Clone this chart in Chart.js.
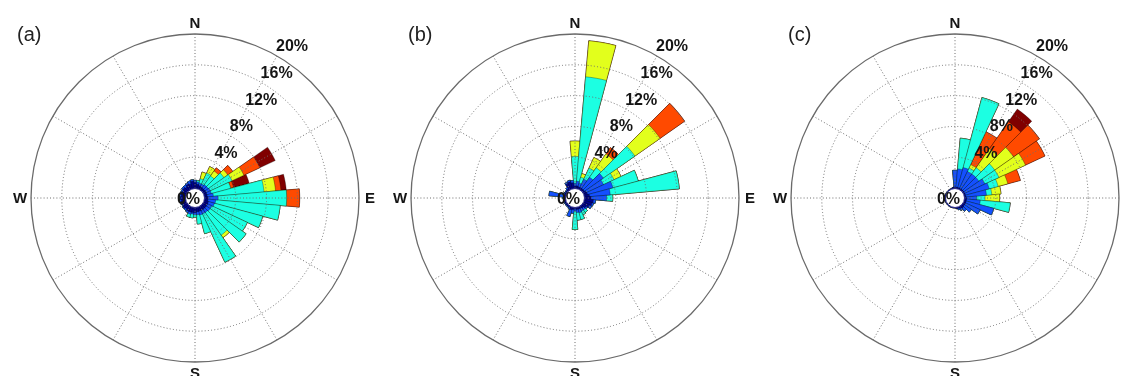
<!DOCTYPE html>
<html>
<head>
<meta charset="utf-8">
<script src="https://cdn.jsdelivr.net/npm/chart.js@4/dist/chart.umd.min.js"></script>
<style>
html,body{margin:0;padding:0;background:#fff;overflow:hidden;width:1126px;height:376px;position:relative;}
.panel{position:absolute;top:0;width:390px;height:376px;}
.panel canvas{position:absolute;left:0;top:0;}
.tag{position:absolute;top:23px;line-height:23px;font:20px "Liberation Sans",Arial,sans-serif;color:#222;}
</style>
</head>
<body>
<div class="panel" style="left:0px"><canvas id="ca" width="390" height="376"></canvas></div>
<div class="panel" style="left:380px"><canvas id="cb" width="390" height="376"></canvas></div>
<div class="panel" style="left:760px"><canvas id="cc" width="390" height="376"></canvas></div>
<div class="tag" style="left:17px">(a)</div>
<div class="tag" style="left:408px">(b)</div>
<div class="tag" style="left:788px">(c)</div>
<script>
// ---- categories (wind direction bins, degrees clockwise from N) ----
const directions = [0,10,20,30,40,50,60,70,80,90,100,110,120,130,140,150,160,170,
                    180,190,200,210,220,230,240,250,260,270,280,290,300,310,320,330,340,350];
const ringValues = [0,4,8,12,16,20];
const ringLabels = ['0%','4%','8%','12%','16%','20%'];
const compassLabels = ['N','E','S','W'];
const classColors = ['#00008F','#1450FF','#1CFFE2','#E2FF1C','#FF4A00','#800000'];

// ---- panel (a): frequency (%) per speed class, per direction ----
const aNavy   = [0.7,0.5,0.4,0.3,0.3,0.3,0.3,0.3,0.3,0.4,0.4,0.5,0.5,0.5,0.5,0.5,0.5,0.5,0.6,0.6,0.6,0.6,0.5,0.6,0.5,0.6,0.5,0.6,0.5,0.6,0.5,0.6,0.5,0.7,0.6,0.9];
const aBlue   = [0.3,0.3,0.3,0.4,0.5,0.5,0.6,0.6,0.8,1.3,1.0,0.8,0.6,0.6,0.5,0.5,0.5,0.4,0.3,0.2,0.3,0.2,0.2,0.1,0.1,0.1,0.2,0.1,0.2,0.1,0.2,0.2,0.3,0.2,0.4,0.2];
const aCyan   = [0,0.2,0.6,1.6,1.4,2.5,3.1,2.6,6.6,8.9,8.4,6.5,5.1,5.7,3.6,6.9,2.5,1.2,0.3,0.5,0.4,0,0,0,0,0,0,0,0,0,0,0,0,0,0,0];
const aYellow = [0,0,0.9,0.9,0.8,0.6,1.7,0,1.5,0,0,0,0,0,0.4,0,0,0,0,0,0,0,0,0,0,0,0,0,0,0,0,0,0,0,0,0];
const aOrange = [0,0,0,0,0.5,0.8,2.3,0.4,0.7,1.7,0,0,0,0,0,0,0,0,0,0,0,0,0,0,0,0,0,0,0,0,0,0,0,0,0,0];
const aDark   = [0,0,0,0,0,0,2.2,2.1,0.7,0,0,0,0,0,0,0,0,0,0,0,0,0,0,0,0,0,0,0,0,0,0,0,0,0,0,0];

// ---- panel (b) ----
const bNavy   = [0.2,0.3,0.2,0.2,0.2,0.2,0.3,0.4,0.6,0.8,1.1,1.0,0.8,0.5,0.3,0.2,0.2,0.2,0.1,0.2,0.3,0.1,0.1,0.1,0.1,0.1,0.1,0.1,0.1,0.1,0.1,0.1,0.2,0.8,0.9,0.7];
const bBlue   = [0.4,0.6,0.5,1.2,1.8,3.0,2.5,3.4,2.7,2.0,0.3,0.2,0.3,0.2,0.3,0.4,0.5,0.4,0.3,0.5,0.9,0.2,0.1,0.1,0.1,0.1,0.1,0.2,2.0,0.2,0.1,0.1,0.2,0.2,0.2,0.3];
const bCyan   = [3.5,13.6,0.8,1.6,1.5,5.0,1.5,3.4,9.0,0.8,0,0,0,0,0.4,0.5,0.9,1.0,2.4,0,0,0,0,0,0,0,0,0,0,0,0,0,0,0,0,0];
const bYellow = [2.0,4.7,0.5,1.5,2.2,4.0,1.0,0,0,0,0,0,0,0,0,0,0,0,0,0,0,0,0,0,0,0,0,0,0,0,0,0,0,0,0,0];
const bOrange = [0,0,0,0,1.0,3.9,0,0,0,0,0,0,0,0,0,0,0,0,0,0,0,0,0,0,0,0,0,0,0,0,0,0,0,0,0,0];
const bDark   = [0,0,0,0,0,0,0,0,0,0,0,0,0,0,0,0,0,0,0,0,0,0,0,0,0,0,0,0,0,0,0,0,0,0,0,0];

// ---- panel (c) ----
const cNavy   = [0.1,0.1,0.1,0.1,0.1,0.1,0.1,0.1,0.1,0.2,0.2,0.2,0.2,0.2,0.3,0.2,0.1,0.1,0,0,0,0,0,0,0,0,0,0,0,0,0,0,0,0,0,0.1];
const cBlue   = [2.2,2.4,2.7,2.4,2.4,2.4,2.9,3.2,2.7,1.3,1.8,3.7,2.1,1.1,0.5,0.3,0.2,0,0,0,0,0,0,0,0,0,0,0,0,0,0,0,0,0,0,0];
const cCyan   = [0,4.0,9.4,0.5,1.0,2.5,2.0,1.2,0.7,1.1,3.9,0,0,0,0,0,0,0,0,0,0,0,0,0,0,0,0,0,0,0,0,0,0,0,0,0];
const cYellow = [0,0,0,0.5,3.0,3.0,3.8,1.3,1.2,1.9,0,0,0,0,0,0,0,0,0,0,0,0,0,0,0,0,0,0,0,0,0,0,0,0,0,0];
const cOrange = [0,0,0,4.7,4.3,4.1,2.8,1.7,0,0,0,0,0,0,0,0,0,0,0,0,0,0,0,0,0,0,0,0,0,0,0,0,0,0,0,0];
const cDark   = [0,0,0,0,2.0,0,0,0,0,0,0,0,0,0,0,0,0,0,0,0,0,0,0,0,0,0,0,0,0,0,0,0,0,0,0,0];

// radial scale: value 0 sits on a small hole of ~10px, 20% on the outer circle
const rMax = 20;
const rMin = -200 / 154;
// angular grid: 5-degree label slots (offset by half a bin) so every 30deg spoke can be drawn
const angleGrid = [];
for (let i = 0; i < directions.length * 2; i++) angleGrid.push(i * 5 - 5);

const decor = {
  id: 'decor',
  afterDraw(chart) {
    const s = chart.scales.r, ctx = chart.ctx;
    const cx = s.xCenter, cy = s.yCenter;
    const r0 = s.getDistanceFromCenterForValue(0);
    ctx.save();
    ctx.beginPath();
    ctx.arc(cx, cy, r0 - 0.5, 0, Math.PI * 2);
    ctx.fillStyle = '#fff';
    ctx.fill();
    ctx.lineWidth = 1;
    ctx.strokeStyle = '#2a2a8c';
    ctx.stroke();
    ctx.fillStyle = '#151515';
    ctx.font = 'bold 16px "Liberation Sans", Arial, sans-serif';
    ctx.textBaseline = 'middle';
    ringValues.forEach((v, i) => {
      if (v === 0) {
        ctx.textAlign = 'right';
        ctx.fillText(ringLabels[i], cx + 5, cy + 2);
      } else {
        const rr = s.getDistanceFromCenterForValue(v);
        ctx.textAlign = 'left';
        ctx.fillText(ringLabels[i], cx + rr * 0.5 - 1, cy - rr * 0.866 - 9);
      }
    });
    ctx.font = 'bold 15px "Liberation Sans", Arial, sans-serif';
    ctx.textAlign = 'center';
    const rc = s.getDistanceFromCenterForValue(rMax) + 11;
    compassLabels.forEach((t, k) => {
      const a = k * Math.PI / 2;
      ctx.fillText(t, cx + rc * Math.sin(a), cy - rc * Math.cos(a) + 1);
    });
    ctx.restore();
  }
};

function makeChart(id, classes) {
  const datasets = [];
  let run = directions.map(() => 0);
  classes.forEach((arr, k) => {
    run = run.map((v, i) => Math.round((v + arr[i]) * 1000) / 1000);
    datasets.push({
      data: run.slice(),
      backgroundColor: classColors[k],
      borderColor: 'rgba(0,0,0,0.5)',
      borderWidth: 0.6
    });
  });
  return new Chart(document.getElementById(id), {
    type: 'polarArea',
    data: { labels: angleGrid, datasets },
    options: {
      responsive: false,
      animation: false,
      events: [],
      layout: { padding: { top: 34, bottom: 14, left: 0, right: 0 } },
      plugins: { legend: { display: false }, tooltip: { enabled: false } },
      scales: {
        r: {
          min: rMin,
          max: rMax,
          beginAtZero: false,
          startAngle: -5,
          afterBuildTicks: (s) => { s.ticks = ringValues.map(v => ({ value: v })); },
          ticks: { display: false },
          pointLabels: { display: false },
          grid: {
            z: 1,
            circular: true,
            color: (c) => (c.tick && c.tick.value === rMax ? '#6a6a6a' : (c.tick && c.tick.value === 0 ? 'rgba(0,0,0,0)' : '#6e6e6e')),
            lineWidth: (c) => (c.tick && c.tick.value === rMax ? 1.3 : 1)
          },
          border: {
            dash: (c) => (c.tick && c.tick.value === rMax ? [] : [1, 2.2])
          },
          angleLines: {
            display: true,
            color: '#6e6e6e',
            lineWidth: (c) => ((c.index - 1) % 6 === 0 ? 1 : 0),
            borderDash: [1, 2.2]
          }
        }
      }
    },
    plugins: [decor]
  });
}

makeChart('ca', [aNavy, aBlue, aCyan, aYellow, aOrange, aDark]);
makeChart('cb', [bNavy, bBlue, bCyan, bYellow, bOrange, bDark]);
makeChart('cc', [cNavy, cBlue, cCyan, cYellow, cOrange, cDark]);
</script>
</body>
</html>
